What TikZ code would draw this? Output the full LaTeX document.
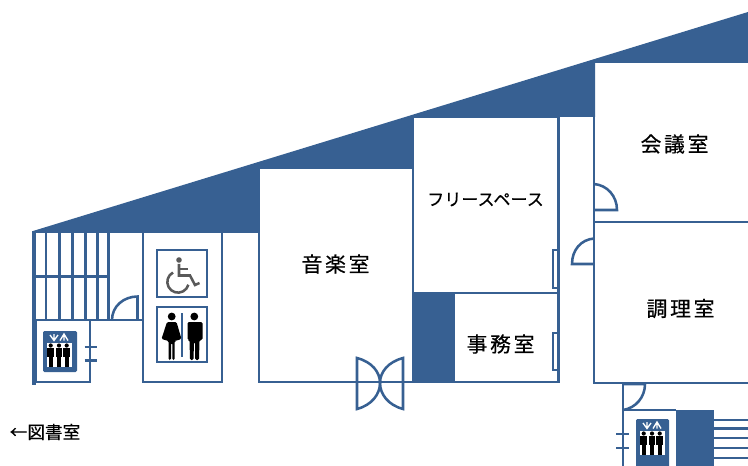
\documentclass[tikz,border=0pt]{standalone}
\usepackage{fontspec}
\newfontfamily\jpfont[LetterSpace=13,FakeBold=.45]{Noto Sans CJK JP}
\newfontfamily\jpnarrow[FakeBold=.35]{Noto Sans CJK JP}
\definecolor{wallblue}{HTML}{376092}
\tikzset{
	wall/.style={draw=wallblue,line width=2.4pt},
	thinwall/.style={draw=wallblue,line width=1.9pt},
	solid block/.style={fill=wallblue},
	room label/.style={inner sep=0pt,font=\jpfont\fontsize{15.6}{15}\selectfont},
	small label/.style={inner sep=0pt,font=\jpnarrow\fontsize{12.8}{12}\selectfont},
}
% Biểu tượng thang máy
\newcommand{\evfigure}{%
	\fill[white] (4,12) rectangle (28.5,36);
	\foreach \px in {7.7,16,23.7}{
		\fill[black] (\px,14.5) circle(2.1);
		\fill[black] (\px-3.3,17) rectangle (\px+3.3,26);
		\fill[black] (\px-1.9,17) rectangle (\px+1.9,35.5);
	}
	\draw[white,line width=1pt] (7,4) -- (11,9.5) -- (15,4) (11,3) -- (11,9.5);
	\draw[white,line width=1pt] (17,9.5) -- (21,3) -- (25,9.5) (21,3) -- (21,9.5);
}
\begin{document}
\begin{tikzpicture}[x=.75pt,y=-.75pt]
	\useasboundingbox (0,0) rectangle (748,466);
	\clip (0,0) rectangle (748,466);

	% Mái
	\fill[solid block] (33,231) -- (748,12) -- (748,62) -- (595,62) -- (595,117) -- (413,117)
		-- (413,168) -- (259,168) -- (259,233) -- (33,233) -- cycle;
	\fill[solid block] (413,293) rectangle (455,382);
	\fill[solid block] (676,410) rectangle (714,466);

	% Cầu thang trái
	\draw[wall] (34,231) -- (34,385);
	\foreach \sx in {46,59.3,72.3,85.7,97.7,108.3}
		\draw[thinwall] (\sx,232) -- (\sx,320);
	\draw[thinwall] (34,276.7) -- (108.3,276.7);
	\draw[thinwall] (36,320) -- (143,320);
	\draw[thinwall] (36,320) rectangle (90,382);
	\draw[thinwall] (84.5,347) -- (97,347);
	\draw[thinwall] (84.5,360.5) -- (97,360.5);
	\fill[solid block,rounded corners=1pt] (43,331) rectangle (77,372);
	\begin{scope}[shift={(43,331)}]
		\evfigure
	\end{scope}

	% Cửa nhà vệ sinh
	\draw[thinwall] (112,320) .. controls (112,306) and (124,296.5) .. (137.5,296.5) -- (137.5,320);

	% Nhà vệ sinh
	\draw[thinwall] (143,232) -- (143,382) -- (222,382) -- (222,232);
	\draw[thinwall] (157,250) rectangle (207,297);
	\draw[thinwall] (157,307) rectangle (207,362);
	\draw[thinwall] (182,313) -- (182,357);

	% Xe lăn
	\fill[black!65] (179,260) circle(2.8);
	\draw[black!65,line width=1.9pt] (179,264) -- (179,275.5) -- (190,275.5) -- (195,285) -- (199.5,283);
	\draw[black!65,line width=1.9pt] (179,269) -- (188,269);
	\draw[black!65,line width=1.9pt] (173,272.5) arc[start angle=242,end angle=15,radius=10.7];

	% Nữ
	\fill[black] (171.7,316.5) circle(3.9);
	\fill[black,rounded corners=1pt] (167,322) -- (176.5,322) -- (181.5,339) -- (175,341) -- (174.6,341)
		-- (174.6,360) -- (172.4,360) -- (172.4,343) -- (171,343) -- (171,360) -- (168.6,360)
		-- (168.6,341) -- (161.5,339) -- cycle;
	% Nam
	\fill[black] (194.3,316.5) circle(3.9);
	\fill[black,rounded corners=1pt] (187.5,322) -- (202.5,322) -- (202.5,340) -- (199.5,340) -- (199,360) -- (195.2,360)
		-- (195,342) -- (194,342) -- (193.5,360) -- (190,360) -- (189.5,340) -- (187.5,340) -- cycle;

	% Phòng giữa
	\draw[thinwall] (259,168) -- (259,382) -- (413,382);
	\draw[thinwall] (259,168) -- (413,168);
	\draw[thinwall] (413,117) -- (413,382) -- (558.5,382) -- (558.5,117) -- (413,117);
	\draw[thinwall] (413,293) -- (558.5,293);
	\draw[thinwall] (553,250) rectangle (558.5,288);
	\draw[thinwall] (553,333) rectangle (558.5,370);

	% Cửa đôi
	\draw[thinwall] (357,358) .. controls (372,362) and (380,372) .. (380,383)
		.. controls (380,394) and (372,405) .. (357,409) -- cycle;
	\draw[thinwall] (403,358) .. controls (388,362) and (380,372) .. (380,383)
		.. controls (380,394) and (388,405) .. (403,409) -- cycle;

	% Phòng bên phải
	\draw[thinwall] (594,62) -- (594,383) -- (748,383);
	\draw[thinwall] (594,62) -- (748,62);
	\draw[thinwall] (594,222) -- (748,222);
	\draw[thinwall] (594,184) .. controls (607,185) and (617,196) .. (617,210) -- (594,210);
	\draw[thinwall] (594,238.5) .. controls (581,239.5) and (572,250) .. (572,264) -- (594,264);

	% Góc dưới phải
	\draw[thinwall] (623,383) -- (623,466);
	\draw[thinwall] (623,384) -- (645,384) .. controls (645,397) and (636,408) .. (623,410);
	\draw[thinwall] (623,410) -- (676,410);
	\draw[thinwall] (616,434) -- (628.5,434);
	\draw[thinwall] (616,448) -- (628.5,448);
	\foreach \sy in {420,428.5,438,448,458}
		\draw[thinwall] (714,\sy) -- (748,\sy);
	\fill[solid block,rounded corners=1pt] (636,419) rectangle (669,470);
	\begin{scope}[shift={(636,419)}]
		\evfigure
	\end{scope}

	% Tên phòng
	\node[room label] (musicroom) at (335.5,264) {音楽室};
	\node[small label] (freespace) at (485.5,199.5) {フリースペース};
	\node[room label] (meetingroom) at (674.5,144) {会議室};
	\node[room label] (cookingroom) at (680.5,308.5) {調理室};
	\node[room label] (officeroom) at (500.5,344) {事務室};
	\node[inner sep=0pt,font=\jpnarrow\fontsize{13.2}{12}\selectfont] (libraryroom) at (45,432) {←図書室};
\end{tikzpicture}
\end{document}
